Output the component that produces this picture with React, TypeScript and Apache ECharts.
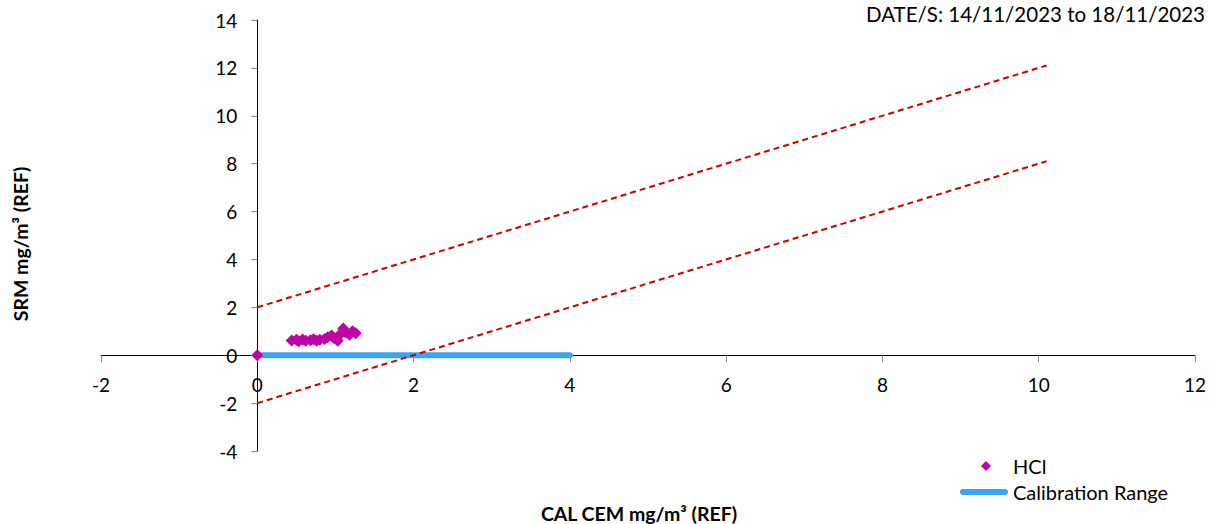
import React, { useEffect, useRef } from "react";
import * as echarts from "echarts";

const hclX = [0, 0.44, 0.5, 0.53, 0.58, 0.62, 0.68, 0.72, 0.76, 0.8, 0.86, 0.9, 0.95, 0.98, 1.03, 1.06, 1.1, 1.13, 1.18, 1.22, 1.26];
const hclY = [0, 0.62, 0.65, 0.58, 0.66, 0.6, 0.63, 0.67, 0.6, 0.65, 0.68, 0.75, 0.82, 0.72, 0.6, 0.88, 1.12, 0.95, 0.85, 1.0, 0.92];
const calibrationRange = [[0, 0], [4, 0]];
const upperLimit = [[0, 2], [10.1, 12.1]];
const lowerLimit = [[0, -2], [10.1, 8.1]];
const dateText = "DATE/S: 14/11/2023 to 18/11/2023";
const xTitle = "CAL CEM mg/m³ (REF)";
const yTitle = "SRM mg/m³ (REF)";

const FONT = "Lato";
const X_MIN = -2, X_MAX = 12, X_INT = 2;
const Y_MIN = -4, Y_MAX = 14, Y_INT = 2;
const GRID = { left: 101, right: 15, top: 20, bottom: 73 };
const W = 1210, H = 524;

export default function App() {
  const ref = useRef<HTMLDivElement>(null);
  useEffect(() => {
    if (!ref.current) return;
    const chart = echarts.init(ref.current, undefined, { renderer: "svg" });
    const hcl = hclX.map((x, i) => [x, hclY[i]]);
    const gw = W - GRID.left - GRID.right;
    const gh = H - GRID.top - GRID.bottom;
    // shift the axes so they cross at zero, with their labels
    const yAxisOffset = -((0 - X_MIN) / (X_MAX - X_MIN)) * gw;
    const xAxisOffset = -((0 - Y_MIN) / (Y_MAX - Y_MIN)) * gh;
    chart.setOption({
      animation: false,
      textStyle: { fontFamily: FONT },
      grid: GRID,
      title: {
        text: dateText,
        right: 5,
        top: 3,
        padding: 0,
        textStyle: { fontFamily: FONT, fontSize: 20.5, fontWeight: "normal", color: "#000" },
      },
      legend: {
        orient: "vertical",
        left: 960,
        top: 456,
        padding: 0,
        itemWidth: 48,
        itemHeight: 12,
        itemGap: 6,
        textStyle: { fontFamily: FONT, fontSize: 20, color: "#000" },
        data: [
          { name: "HCl", icon: "path://M0,0 M48,12 M21,6 L26,1 L31,6 L26,11 Z" },
          {
            name: "Calibration Range",
            icon: "path://M0,0 M48,12 M3,3 L45,3 A3,3 0 0 1 45,9 L3,9 A3,3 0 0 1 3,3 Z",
          },
        ],
      },
      xAxis: {
        type: "value",
        min: X_MIN,
        max: X_MAX,
        interval: X_INT,
        offset: xAxisOffset,
        axisLine: { onZero: false, lineStyle: { color: "#000", width: 1 } },
        axisTick: { show: true, length: 7, lineStyle: { color: "#888" } },
        axisLabel: { fontFamily: FONT, fontSize: 19, color: "#000", margin: 20 },
        splitLine: { show: false },
      },
      yAxis: {
        type: "value",
        min: Y_MIN,
        max: Y_MAX,
        interval: Y_INT,
        offset: yAxisOffset,
        axisLine: { onZero: false, lineStyle: { color: "#000", width: 1 } },
        axisTick: { show: true, length: 6, lineStyle: { color: "#888" } },
        axisLabel: { fontFamily: FONT, fontSize: 19, color: "#000", margin: 20 },
        splitLine: { show: false },
      },
      graphic: [
        {
          type: "text",
          x: 20,
          y: 244,
          rotation: Math.PI / 2,
          style: {
            text: yTitle,
            fontFamily: FONT,
            fontSize: 19.5,
            fontWeight: "bold",
            fill: "#000",
            align: "center",
            verticalAlign: "middle",
          },
        },
        {
          type: "text",
          x: 639,
          y: 513,
          style: {
            text: xTitle,
            fontFamily: FONT,
            fontSize: 19.5,
            fontWeight: "bold",
            fill: "#000",
            align: "center",
            verticalAlign: "middle",
          },
        },
      ],
      series: [
        {
          name: "Upper",
          type: "line",
          data: upperLimit,
          symbol: "none",
          lineStyle: { color: "#CC0000", width: 2, type: [6, 4] },
          z: 3,
        },
        {
          name: "Lower",
          type: "line",
          data: lowerLimit,
          symbol: "none",
          lineStyle: { color: "#CC0000", width: 2, type: [6, 4] },
          z: 4,
        },
        {
          name: "Calibration Range",
          type: "line",
          data: calibrationRange,
          symbol: "none",
          itemStyle: { color: "#3AA4F0" },
          lineStyle: { color: "#3AA4F0", width: 6, cap: "round" },
          z: 2,
        },
        {
          name: "HCl",
          type: "scatter",
          data: hcl,
          symbol: "diamond",
          symbolSize: 12,
          itemStyle: { color: "#C000A8", opacity: 1 },
          z: 5,
        },
      ],
    });
    return () => chart.dispose();
  }, []);
  return (
    <div
      ref={ref}
      style={{ position: "fixed", left: 0, top: 0, width: W, height: H, background: "#fff" }}
    />
  );
}
